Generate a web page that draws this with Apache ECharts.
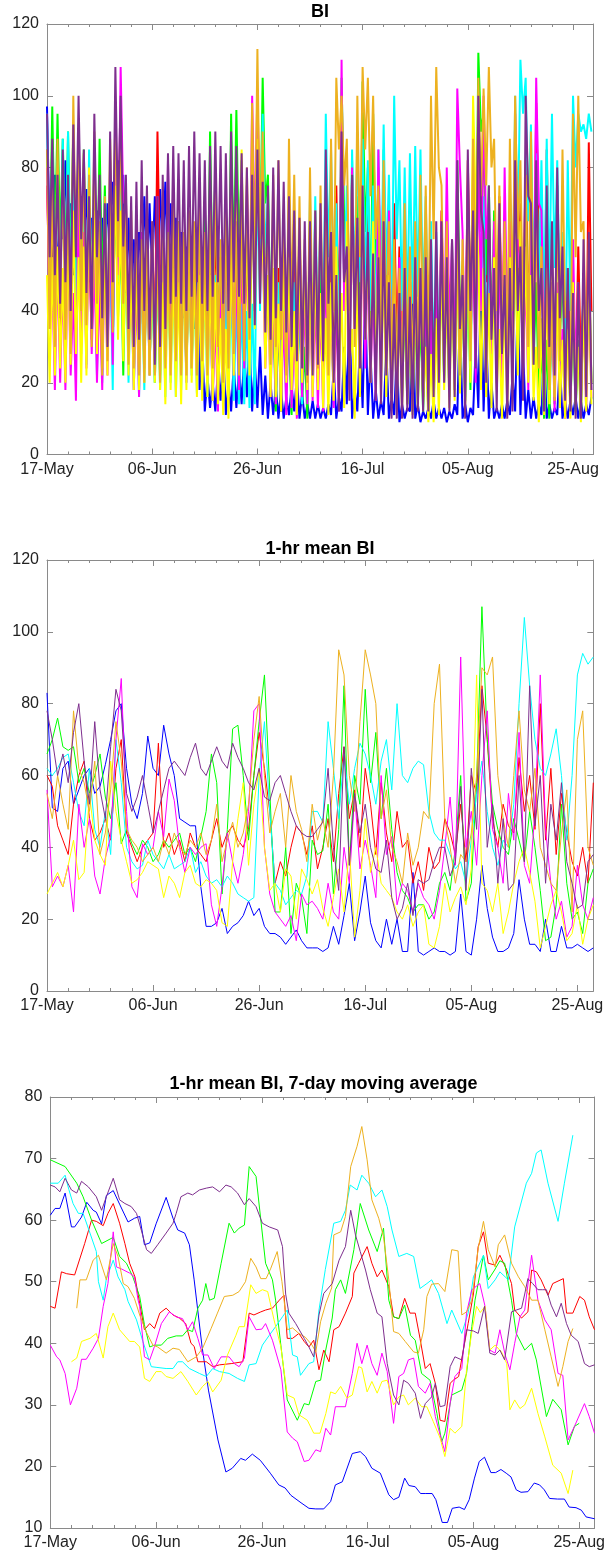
<!DOCTYPE html>
<html><head><meta charset="utf-8">
<script src="https://cdn.jsdelivr.net/npm/echarts/dist/echarts.min.js"></script>
<style>html,body{margin:0;padding:0;background:#fff}#c{width:608px;height:1558px}</style>
</head><body><div id="c"></div>
<script>
// ---------- tick labels ----------
const DATE_LABELS = ['17-May','06-Jun','26-Jun','16-Jul','05-Aug','25-Aug']; // days 0,20,...,100
const TITLES = ['BI', '1-hr mean BI', '1-hr mean BI, 7-day moving average'];
const SERIES_NAMES = ['blue','red','green','cyan','magenta','yellow','orange','purple'];
const COLORS = ['#0000ff','#ff0000','#00ff00','#00ffff','#ff00ff','#ffff00','#edb120','#7e2f8e'];

// ---------- panel 1: BI (sampled every half day, day = index*0.5) ----------
const BI_blue = [97,60,55,78,48,70,60,82,52,70,50,65,55,72,58,74,48,66,50,68,
45,66,52,70,58,76,62,82,58,78,45,66,40,60,45,62,52,72,48,70,
50,72,52,74,55,76,50,70,45,66,40,62,38,58,40,60,35,55,18,32,
12,22,13,20,12,24,15,30,11,20,12,25,13,24,14,28,16,32,12,26,
13,30,11,22,10,20,11,19,10,18,10,16,11,19,12,22,10,17,10,14,
10,15,10,14,10,13,10,14,11,24,10,16,12,30,14,42,10,18,12,32,
13,45,11,28,10,18,10,15,11,30,10,16,11,28,9,14,10,13,12,48,
10,14,9,12,10,13,10,15,10,13,10,13,9,12,10,14,11,40,10,14,
9,13,11,30,13,50,12,34,10,20,10,13,10,14,10,15,11,22,12,45,
11,30,10,18,10,16,10,14,11,30,10,14,10,13,11,26,10,15,10,15,
11,16,10,15,10,14,11,16];
const BI_red = [75,45,70,38,55,30,48,28,70,35,80,40,85,42,75,38,60,32,55,30,
60,32,65,35,58,30,80,45,85,50,60,30,52,28,48,25,55,30,58,28,
60,32,90,48,55,28,60,30,52,26,58,30,50,25,60,32,55,28,52,26,
50,25,58,30,65,32,55,28,60,30,62,32,58,28,55,28,62,30,80,40,
95,50,85,42,70,32,45,18,52,22,48,18,58,24,65,28,62,26,55,22,
65,28,50,20,58,24,68,30,52,22,75,35,90,45,68,30,78,35,58,24,
85,40,72,32,55,22,80,38,62,28,52,22,70,30,58,24,60,26,45,18,
52,20,42,16,58,24,50,20,52,22,68,30,62,28,55,24,72,32,52,22,
82,40,75,36,100,62,92,48,68,30,58,24,72,32,65,28,62,26,88,42,
70,32,82,40,62,28,98,58,60,26,85,40,55,22,75,35,62,28,52,22,
48,18,58,24,45,16,87,40];
const BI_green = [85,50,97,55,95,58,88,50,90,48,92,46,78,38,85,42,75,35,82,40,
88,45,75,35,68,30,80,38,62,22,65,26,60,22,55,22,60,25,58,24,
52,20,55,22,60,25,58,24,62,24,65,26,55,22,58,24,52,22,62,26,
72,30,90,45,80,38,45,15,65,28,95,52,96,55,82,40,60,25,82,40,
98,55,105,70,78,35,40,12,38,12,58,22,32,11,48,18,42,14,30,10,
62,25,58,22,60,20,75,32,45,15,65,28,105,65,55,20,82,40,72,32,
104,62,80,38,95,50,70,30,85,40,65,28,52,20,45,16,42,14,38,12,
42,14,40,12,35,11,40,12,50,18,55,20,48,16,60,25,82,40,45,15,
52,18,80,38,112,90,95,50,75,32,68,28,60,24,58,22,70,30,62,26,
58,22,72,30,62,25,48,16,30,10,32,10,45,14,75,32,52,18,38,12,
40,12,32,10,50,18,55,20];
const BI_cyan = [95,40,85,38,82,40,88,42,90,45,80,35,72,28,68,25,85,40,65,22,
62,20,72,28,58,18,90,48,80,38,60,20,55,18,52,16,54,18,62,22,
58,20,55,18,52,16,58,20,52,16,55,18,56,20,60,22,52,17,56,20,
50,16,48,15,50,16,46,15,50,16,48,15,44,14,42,14,40,13,42,14,
82,40,95,55,72,30,50,15,48,14,42,13,45,14,48,15,46,14,52,16,
72,30,72,30,68,28,95,55,85,42,70,28,88,45,75,32,85,42,90,48,
88,45,82,40,75,32,85,42,92,50,78,35,100,60,82,40,80,38,84,42,
86,44,85,42,72,30,65,24,62,22,62,22,58,20,52,18,55,20,48,16,
62,24,76,34,85,44,72,30,60,22,55,20,62,24,60,22,75,32,100,60,
110,95,105,65,92,50,84,42,82,40,88,45,95,52,82,40,62,24,82,40,
100,80,95,90,92,88,95,90];
const BI_magenta = [80,35,50,18,55,20,50,18,60,22,45,15,75,30,62,24,70,28,55,20,
48,18,60,22,65,25,95,50,108,70,72,30,50,18,48,16,62,24,58,22,
62,24,72,30,65,24,82,38,75,32,62,24,55,20,62,24,58,22,62,24,
62,24,45,15,38,12,52,18,68,28,58,22,52,18,60,24,75,32,100,60,
102,62,62,24,50,16,45,14,42,12,40,11,44,13,35,10,50,16,45,14,
48,15,45,13,42,12,55,18,45,13,42,12,110,40,55,18,80,35,58,20,
65,24,58,20,48,15,85,40,62,22,68,26,48,15,55,18,50,16,45,13,
55,18,50,16,45,14,40,12,52,17,65,25,80,35,60,22,102,80,62,24,
75,30,58,20,85,40,100,60,70,28,65,24,55,18,80,35,65,25,95,52,
58,20,52,18,72,30,105,70,68,26,55,18,42,12,48,15,35,10,40,12,
60,22,48,15,42,12,50,16];
const BI_yellow = [50,20,55,22,58,24,52,20,60,25,68,28,55,20,58,22,80,40,68,28,
62,24,58,22,88,45,75,32,68,26,60,22,52,18,55,18,58,20,62,22,
60,20,58,18,48,14,56,18,52,16,48,14,56,18,60,20,52,16,50,15,
52,16,50,15,48,14,38,11,35,10,60,22,75,32,85,40,60,22,78,35,
88,45,65,24,50,16,52,16,42,12,58,20,55,18,40,11,58,20,55,18,
50,16,55,18,45,13,38,11,48,15,58,20,45,13,65,25,35,10,52,16,
75,32,58,20,65,25,55,18,52,16,50,15,45,13,42,12,48,14,38,11,
45,13,48,14,30,9,28,9,38,11,55,18,45,13,50,15,55,17,48,14,
60,20,100,70,55,18,52,16,45,13,55,18,35,10,45,13,55,18,62,22,
65,24,58,20,50,15,30,9,38,11,48,14,52,16,45,13,32,10,35,10,
48,14,30,9,42,12,48,14];
const BI_orange = [85,35,75,30,88,38,80,32,72,28,100,55,88,40,84,36,78,30,90,42,
65,22,72,26,82,34,98,55,90,42,72,25,68,24,65,22,60,20,62,22,
65,22,60,20,68,24,62,22,70,26,65,22,62,22,68,24,65,22,70,26,
62,22,68,24,80,30,60,20,68,24,75,28,65,22,70,26,80,32,98,50,
113,60,90,40,70,25,78,30,82,32,65,22,88,40,78,30,72,26,60,20,
80,30,68,24,75,28,65,22,88,40,105,85,100,75,88,40,78,30,100,55,
108,85,105,72,100,60,75,28,82,34,65,22,60,20,52,16,70,26,58,20,
65,24,78,30,75,28,100,60,108,80,75,28,65,24,52,18,62,22,60,20,
70,26,88,40,105,72,102,75,108,80,88,40,75,28,65,24,88,40,100,60,
82,35,78,30,90,42,65,24,58,20,52,18,48,15,70,26,85,38,45,14,
95,55,100,62,65,24,60,20];
const BI_purple = [95,55,88,50,78,42,85,48,78,40,92,55,100,60,85,45,72,35,95,55,
78,38,70,30,90,48,108,65,100,58,78,35,72,30,76,32,82,40,75,32,
65,25,72,30,78,35,84,42,86,44,84,42,82,40,86,44,90,48,84,42,
82,40,86,44,90,48,86,42,84,40,90,48,86,44,84,42,80,38,78,36,
85,42,76,34,75,32,80,38,82,40,76,34,72,30,68,26,66,24,65,22,
65,22,68,25,70,26,85,42,62,20,50,12,90,48,58,15,78,35,66,24,
75,32,62,20,56,15,55,14,65,22,48,10,42,10,45,10,52,12,44,10,
55,12,52,12,55,12,60,16,65,20,65,20,55,12,60,16,82,35,50,10,
85,40,68,24,100,68,62,20,75,32,52,12,70,28,50,10,52,12,82,40,
58,15,100,72,70,25,82,40,52,12,75,30,65,22,80,38,58,15,52,12,
45,10,48,10,60,16,62,18];

// ---------- panel 2: 1-hr mean BI (one value per day, days 0..103) ----------
const HR_blue = [83,51,50,62,64,52,56,60,62,55,57,63,70,78,80,62,52,48,55,71,
62,60,74,66,60,48,47,46,46,29,18,18,19,23,16,18,19,21,25,21,
23,18,16,16,15,13,15,17,14,12,12,12,11,12,18,13,21,30,14,22,
32,19,14,12,20,13,20,11,11,33,11,10,11,12,11,11,10,11,27,11,
10,20,35,23,15,11,11,12,16,31,20,13,13,11,20,11,11,18,12,12,
13,12,11,12];
const HR_red = [60,57,46,42,38,52,60,64,48,42,44,48,42,62,70,44,40,36,40,42,
44,69,40,44,38,42,36,44,40,38,36,42,48,40,44,46,42,40,45,60,
72,62,50,30,36,32,40,46,44,38,46,34,40,48,36,55,68,48,56,40,
62,52,38,58,44,36,50,40,42,30,36,28,40,34,36,48,44,38,52,36,
60,55,85,70,48,40,52,46,44,65,50,60,45,80,42,62,38,55,44,36,
32,40,30,58];
const HR_green = [66,70,76,68,67,68,58,62,55,60,66,54,48,58,41,45,41,38,42,40,
36,38,42,40,42,44,38,40,36,43,50,66,58,27,45,73,74,60,42,60,
75,88,56,22,22,40,16,30,26,16,42,38,39,52,27,45,85,35,60,52,
84,58,72,48,62,45,33,28,26,22,24,24,20,22,30,33,28,40,60,25,
30,58,107,70,52,45,40,38,48,42,36,50,40,28,14,15,24,52,30,20,
22,16,30,34];
const HR_cyan = [62,60,62,65,66,58,50,46,62,45,40,50,38,70,58,40,36,34,35,42,
38,36,34,38,34,35,36,40,33,36,32,30,31,29,32,30,27,26,25,26,
60,75,50,30,28,24,26,28,27,32,50,50,47,75,62,48,66,52,62,69,
66,60,52,64,70,56,80,60,58,62,64,63,50,44,42,42,38,34,36,30,
42,55,64,50,40,35,42,40,52,80,104,85,70,62,60,66,73,60,42,60,
88,94,91,93];
const HR_magenta = [56,29,32,29,35,22,52,40,48,32,27,37,43,70,87,50,29,26,41,38,
40,50,43,59,53,40,33,40,38,40,41,24,18,29,44,36,30,38,50,78,
80,40,27,22,20,18,21,14,27,24,25,23,20,30,22,20,40,30,55,34,
42,35,26,60,38,43,24,30,28,22,30,26,24,20,28,40,54,35,93,40,
50,35,60,78,45,40,30,55,42,72,35,30,50,88,45,30,20,25,15,18,
35,24,20,26];
const HR_yellow = [27,30,33,29,35,42,31,33,55,42,38,35,64,50,42,36,30,31,33,36,
35,34,26,32,30,26,33,35,30,29,31,30,28,19,18,36,48,58,35,52,
62,40,28,30,22,34,32,20,34,31,27,31,23,18,26,34,22,40,15,28,
48,33,40,30,28,26,22,20,24,18,22,24,13,12,18,30,22,26,29,24,
34,88,30,28,22,30,16,22,30,36,40,33,25,12,18,24,28,22,14,16,
24,13,20,24];
const HR_orange = [55,48,60,52,45,78,62,58,50,64,38,44,56,75,64,45,42,40,36,38,
40,36,42,38,44,40,38,42,40,44,38,42,52,36,42,47,40,44,52,70,
82,60,44,50,55,40,60,50,45,36,52,42,48,40,60,95,88,60,50,75,
95,88,80,48,56,40,36,30,44,35,40,50,48,80,91,48,40,30,38,36,
44,60,90,88,93,60,48,40,60,78,56,50,62,40,35,30,28,44,56,22,
70,78,40,35];
const HR_purple = [78,70,60,66,58,72,80,64,52,75,56,48,68,84,78,55,50,54,60,52,
44,50,56,62,64,62,60,65,69,62,60,64,68,64,62,69,65,62,58,56,
62,54,53,58,60,55,50,46,44,43,43,45,47,62,40,28,68,35,55,44,
52,40,34,33,42,26,20,23,30,21,31,30,31,36,40,40,32,36,57,28,
62,45,84,40,52,30,48,28,30,60,36,85,46,60,30,52,42,58,36,30,
23,24,36,38];

// ---------- panel 3: 7-day moving average ([day, value]) ----------
const MA_blue = [[0,60.8],[0.9,61.9],[1.8,61.9],[2.8,64.4],[4,58.9],[4.6,58.9],[5.9,60.5],[6.9,62.9],[8.1,61.6],[8.7,61.3],[9.7,59.4],[10.6,64],[11.9,64.8],[13.1,62.6],[14.7,59.7],[15.9,60.3],[16.9,60.6],[17.8,56],[18.8,56.3],[20,59.4],[21.9,63.7],[23.2,60.3],[24.1,58.4],[25.4,57.9],[26.3,56],[27.2,50.3],[28.7,39.4],[29.9,32.4],[31.7,24.3],[33.2,19.1],[34.4,19.7],[36,21.3],[36.9,21],[38.2,22],[39.7,21],[41.6,18.9],[43.2,17],[44.4,16.5],[45.5,15.3],[47.4,14.1],[48.9,13.2],[50.2,13.1],[51.7,13.1],[53,14.3],[53.9,17],[55.2,17.5],[57.1,22.1],[58.6,22.4],[59.6,21.6],[60.8,19.7],[62.4,18.9],[64,15.4],[64.9,14.6],[65.9,15],[67,18.1],[67.8,16.9],[69,16.7],[70,15.6],[71,15.6],[72.2,15.6],[72.9,14.6],[74.1,10.9],[75.1,10.9],[76,13.2],[77.3,13.4],[78.3,13],[79.2,14.6],[80.2,18.1],[81.1,20.8],[82.1,21.5],[83.3,19],[84.2,19],[85.2,19.5],[86.2,18.9],[87.1,18.3],[88.1,16.2],[89,15.8],[90.3,15.9],[91.5,17.3],[92.5,17],[93.4,16.2],[94.4,14.8],[95.9,14.7],[97.2,14.7],[98.1,13.4],[99.4,13.3],[100.4,12.9],[101.3,11.8],[102.9,11.5]];
const MA_red = [[0,46],[0.9,45.7],[2.1,51.6],[3.1,51.3],[4.6,51.1],[6.5,56.2],[7.8,60],[8.7,59.8],[10,59.1],[10.9,61.1],[11.9,62.7],[13.1,59.5],[14.1,56.2],[15,53],[16,50.8],[16.9,46.5],[17.8,42.2],[18.8,43.2],[19.7,42.4],[20.7,44.9],[21.9,45.7],[23.2,44.6],[24.4,44.1],[25.6,43.2],[26.6,40],[27.2,39.5],[27.9,37],[29.5,37],[30.7,36.2],[32,36.5],[34.2,36.7],[36.4,37],[37.6,44.9],[38.5,44.6],[39.8,45.1],[40.7,45.4],[42,45.7],[43.3,47],[44.2,47.8],[44.8,40.8],[45.8,40.8],[47,41.6],[48,40.3],[48.9,39.4],[49.8,40.5],[50.8,35.7],[51.7,38.9],[52.7,37],[53.6,42.2],[54.6,42.7],[55.8,44.9],[57.1,47.6],[57.4,51.4],[58.3,53],[59.9,55.7],[60.8,53],[61.8,50.8],[62.7,51.9],[64,49.2],[64.9,44.3],[65.9,44],[67,47.3],[68,44.9],[69,44.9],[69.9,40.8],[70.9,35.9],[71.8,36.7],[72.8,33.5],[73.7,27.5],[74.6,27.3],[75.6,33.5],[76.2,34],[77.2,34.6],[78.1,38.9],[79,43.2],[80,48],[80.9,55.7],[81.9,58.1],[82.8,53],[84.1,52.7],[85,54.3],[86.3,51.9],[87.2,49.7],[87.8,45.4],[89.1,44.1],[90.3,45.1],[91,51.9],[91.9,51.6],[92.8,50.3],[94.1,47.8],[95,49.7],[97,50.5],[97.6,44.9],[98.8,44.9],[100.1,47.6],[101,47],[101.9,44.3],[102.9,42.2]];
const MA_green = [[0,69.8],[2.8,68.7],[5,66],[6.2,63.8],[7.8,60],[9.7,56.2],[11.9,57.2],[13.1,54.1],[14.4,53],[15.6,50.8],[16.9,47.6],[17.8,43],[18.8,39.4],[19.7,39.7],[21,39.7],[22.2,40.8],[23.8,41.2],[25,41.2],[26,42.2],[26.9,41.9],[27.9,45.7],[28.8,47],[29.4,49.7],[30.1,47],[31,47.3],[32.3,53],[33.8,59.5],[34.8,57.9],[35.7,58.7],[36.7,59.2],[37.6,68.7],[38.9,67.1],[40.7,53],[42,50.3],[42.6,47],[44.8,30.8],[46.7,27.5],[48,30.2],[48.9,30],[50.2,33.8],[51.1,34],[52,38.6],[53.3,44.1],[53.9,48.7],[54.9,50.3],[55.8,48.1],[57.4,55.2],[58.6,62.7],[60.2,58.4],[61.8,54.9],[63,58.7],[64,47],[64.9,44.3],[65.9,44],[67,46.2],[68.1,41.3],[69,40.5],[70.2,35.1],[71.8,34],[73.1,28.6],[74,24],[74.6,25.4],[75.9,31.6],[77.8,32.4],[78.7,35.1],[79.7,42.7],[80.3,47],[81.9,54.3],[82.8,50.3],[84,51.9],[85,53.4],[85.9,53],[87.2,47],[88.1,41.6],[89.7,38.9],[91,40],[91.9,37.3],[93.8,28.1],[95,30.9],[96.6,29.2],[97.9,23.5],[99.1,26.5],[100,27]];
const MA_cyan = [[0,66],[1.5,66],[2.8,67.3],[3.5,65],[4.3,62.7],[5.3,61.1],[6.2,61.1],[7.5,57.9],[8.7,54.9],[9.1,50],[10,47],[10.6,50.5],[11.9,53.5],[12.8,50.8],[14.1,48.7],[14.7,46.8],[16.3,43.8],[17.5,40.3],[19.1,36.2],[20,36.1],[21.9,35.9],[23.2,35.9],[24.1,37],[25,37],[26.3,35.9],[28.2,35.1],[29.5,34.6],[30.7,35.9],[32,35.4],[33.8,35.1],[35.4,34.3],[36.7,33.8],[37.6,36.5],[38.9,36.7],[40.1,39.7],[41.4,41.3],[42.6,42.7],[43.9,44.3],[44.8,45.4],[45.8,38.1],[46.7,37.8],[47.3,34.8],[48.9,36.7],[49.8,37],[50.8,45.4],[52,52],[53.6,59.5],[54.9,59.8],[55.8,61.6],[56.7,65.7],[58,64.9],[58.9,67.3],[60.2,66],[61.5,63.8],[62.7,64.9],[63.7,62.2],[64.6,58.4],[65.9,54.1],[67.4,54.6],[68.7,54.1],[69.9,48.9],[71.2,49.7],[72.1,50.3],[73.4,48.1],[75,43.2],[75.9,45.4],[77.8,41.6],[79,44.9],[80,50.8],[81.9,54.3],[82.8,48.9],[84.1,50.3],[85,51.6],[86.6,50.3],[87.8,58.9],[90,66],[91,67.6],[91.9,70.9],[92.8,71.4],[94.1,66],[96,59.8],[97.2,66],[98.8,73.8]];
const MA_magenta = [[0,39.7],[1.2,37.8],[1.8,37.3],[2.8,35.1],[3.8,30],[5,32.7],[5.9,37.4],[6.8,37.4],[8.1,39.2],[9.1,40.8],[10,46],[10.9,49.7],[11.9,58.1],[12.5,52.4],[13.4,52.1],[15,51.4],[15.9,50.8],[16.6,47],[16.9,46],[17.8,37.8],[18.8,37.3],[19.7,39.5],[21,43.2],[22.5,45.1],[23.8,44.3],[25,44],[26,42.2],[26.9,43.5],[27.9,40.8],[28.8,38.1],[29.8,38.1],[31,35.9],[32.3,37.8],[33.8,37.8],[34.8,36.7],[35.7,36.2],[36.7,37.6],[37.6,44.3],[38.9,42.2],[40,42.3],[40.7,43.2],[42,40.5],[43.6,35.7],[44.8,25.6],[45.8,24.6],[46.7,24],[48,20.8],[48.9,21],[50.2,22.7],[51.1,22.4],[52.1,26.2],[53,25.1],[53.9,29.7],[55.8,29.7],[57.1,35.1],[58,40],[58.9,36.7],[59.9,39.7],[60.8,36.7],[61.8,34.8],[62.7,38.4],[63.7,35.4],[64.9,27],[65.9,34.6],[66.8,35.1],[67.7,37.3],[68.7,37.6],[69.6,33],[70.9,31.9],[71.8,33.5],[72.8,28.1],[73.7,25.1],[74.6,22.4],[75.6,30.3],[76.5,34.6],[77.8,35.9],[78.7,44.9],[79.7,48.7],[81.2,49.7],[82.2,46],[83.1,38.9],[84.1,38.4],[85,42.2],[86,38.1],[86.9,35.7],[87.8,40],[88.8,44.3],[89.7,45.4],[91,54.3],[92.2,47],[93.5,43.8],[94.7,42.2],[96,35.1],[96.9,34.8],[97.9,24.3],[99.1,26.5],[101,30.2],[101.9,28.1],[102.9,25.4]];
const MA_yellow = [[4,37],[5,37.6],[5.9,40.3],[7.5,40.8],[8.7,41.6],[10,37.6],[10.9,42.7],[11.9,44.9],[13.1,42.2],[15,40.3],[15.9,40.3],[16.9,39.4],[17.8,34.3],[18.8,33.8],[20,35.4],[21,35.4],[21.9,34.6],[23.2,34.3],[24.7,35.4],[26,33.8],[27.6,31.6],[28.8,33],[29.8,33.8],[30.7,32.1],[32.3,34],[33.5,38.1],[35.1,41.3],[35.7,42.7],[36.7,42.7],[37.9,49.5],[38.9,48.1],[40.1,48.7],[41.1,48.4],[42.3,43.8],[43.6,39.4],[44.8,31.6],[46.1,31.1],[47,28.4],[48.6,27.5],[49.8,25.4],[51,25.4],[52.1,28.6],[53,32.1],[53.9,31.8],[54.9,33],[56.1,31.1],[57.1,31.6],[58.3,36.2],[58.9,36],[59.9,32.1],[60.8,33.8],[61.8,31.9],[62.7,33.8],[63.7,34],[64.9,30],[65.9,31.3],[66.8,31.6],[67.7,30],[69,31.1],[70.2,29.7],[71.2,29.7],[72.4,27.3],[73.7,24.6],[74.6,21.6],[75.6,26.2],[76.5,25.4],[77.8,26.5],[78.7,35.7],[79.7,41.9],[80.6,46],[81.3,45],[82.2,46],[83.1,38.9],[84.1,39.7],[85.3,38.6],[86.3,36.7],[86.9,29.2],[87.8,30.8],[88.8,29.4],[89.7,30],[91,32.7],[92.2,28.6],[93.5,24.8],[95,20.2],[96.6,18.9],[97.9,15.6],[98.8,19.4]];
const MA_orange = [[5,45.7],[5.6,50.3],[6.8,50.3],[8.1,53.5],[9.1,54.3],[10,51.9],[10.6,50.3],[11.9,56.2],[12.8,54.1],[13.8,49.7],[14.7,49.2],[15.9,47.3],[16.9,44.6],[18.1,41.9],[19.4,39.7],[20.3,39.4],[21.9,38.4],[23.2,39.2],[24.4,39],[26,37],[27.6,37.8],[28.8,39.2],[30.4,42.4],[31.6,44.9],[32.9,47.6],[34.5,47.8],[35.7,48.4],[36.9,50],[37.9,53.8],[38.9,52.4],[39.8,50.5],[40.8,50.5],[41.7,52.2],[42.9,54.9],[43.8,50],[44.2,47],[44.8,42.2],[45.8,42.5],[47,41.6],[48.2,41],[49.5,39.7],[50.2,38.6],[51.1,43.5],[52.1,46.5],[53.2,49],[53.6,57.6],[54.9,58.1],[55.8,60.6],[56.8,68.7],[58,72],[58.9,75.2],[59.9,69.8],[60.8,63.3],[62.1,60.3],[63,57.3],[64,50.3],[64.9,41.9],[65.9,41.6],[67.1,40.3],[68.7,38.6],[69.6,38.4],[70.6,42.2],[71.2,47.6],[72.1,49.6],[73.4,49.7],[74.6,48.4],[75.9,55.2],[77.1,55],[77.8,44.6],[78.7,45.1],[79.7,47],[80.9,55.4],[81.9,59.8],[82.8,55.2],[84.1,52.4],[84.7,56],[85.9,57.6],[87.2,53],[88.5,50.8],[89.7,49.2],[91,47],[92.2,47],[93.5,42.2],[94.7,37.8],[96,33],[96.9,36.2],[97.9,40.3],[98.8,42.4]];
const MA_purple = [[0,65.7],[0.9,65.4],[1.8,64.6],[2.8,66.8],[4,64.9],[5,64.4],[5.9,66.3],[7.2,65.4],[8.7,63.8],[9.7,61.6],[10.6,63.8],[11.9,66.8],[13.1,63.3],[14.1,62.7],[15.3,62.2],[16.3,61.1],[17.2,58.4],[18.2,55.2],[19.1,54.6],[20.3,56],[21.9,57.9],[23.2,59.5],[23.8,61.1],[24.7,63.8],[26,64.4],[26.9,64.1],[28.2,64.9],[29.5,65.2],[30.7,65.4],[32,64.6],[33.2,65.7],[34.2,65.4],[35.4,64.4],[36.7,62.5],[37.6,63.5],[38.9,62.2],[40.1,59.5],[41.4,58.9],[43,58.4],[43.9,55.7],[44.5,48],[45.1,44.9],[46.4,43.2],[48,40.8],[48.9,39.4],[49.8,37.8],[50.8,44.6],[51.7,48.1],[53.3,49.7],[54.6,53.5],[55.8,55.7],[56.8,61.6],[57.7,57.6],[58.6,54.9],[59.6,51.9],[60.5,48.7],[61.8,44.9],[62.7,44.3],[63.7,36.7],[64.9,31.6],[65.9,30],[66.8,34],[67.7,33.5],[69,31.9],[70,27.8],[70.9,30.2],[72.1,31.3],[72.8,33.5],[73.7,29.7],[74.6,29.9],[75.6,36.2],[76.5,37.8],[77.8,37.3],[78.7,42.2],[80,42],[80.9,41.6],[82.1,46],[83.1,38.4],[84.1,38.1],[85,38.9],[85.9,37.3],[87.2,45.1],[88.1,45.4],[89.1,45.7],[89.7,48],[90.3,50.5],[91.2,49.7],[92.2,48.7],[93.1,48.7],[93.8,48.7],[94.7,46.2],[95.7,44.3],[96.6,46.5],[97.6,43.2],[98.5,41.3],[99.8,40.3],[101,36.7],[101.9,36.2],[102.9,36.5]];

// ---------- build ----------
const FONT = '"Liberation Sans", Arial, Helvetica, sans-serif';
const AX = '#8a8a8a';
const panels = [
  {grid:{left:47, top:24, width:546, height:430.5}, xmax:103.8, ymin:0, ymax:120, yint:20, lw:2,
   data:[BI_blue,BI_red,BI_green,BI_cyan,BI_magenta,BI_yellow,BI_orange,BI_purple], step:0.5, titleY:13, titleX:320},
  {grid:{left:47, top:560, width:546.3, height:431}, xmax:103.0, ymin:0, ymax:120, yint:20, lw:1,
   data:[HR_blue,HR_red,HR_green,HR_cyan,HR_magenta,HR_yellow,HR_orange,HR_purple], step:1, titleY:550, titleX:320},
  {grid:{left:50.3, top:1097, width:546.4, height:431}, xmax:102.9, ymin:10, ymax:80, yint:10, lw:1,
   data:[MA_blue,MA_red,MA_green,MA_cyan,MA_magenta,MA_yellow,MA_orange,MA_purple], step:null, titleY:1085, titleX:323.5}
];

const grids=[], xAxes=[], yAxes=[], series=[], titles=[];
panels.forEach((p,pi)=>{
  grids.push(Object.assign({containLabel:false}, p.grid));
  const base = {gridIndex:pi, type:'value', min:0, max:p.xmax, splitLine:{show:false}};
  const xi = xAxes.length;
  xAxes.push(Object.assign({}, base, {position:'bottom', interval:20,
    axisLine:{show:true, onZero:false, lineStyle:{color:AX,width:1}},
    axisTick:{show:true, inside:true, length:6, lineStyle:{color:AX}},
    axisLabel:{show:true, color:'#222', fontSize:16, fontFamily:FONT, margin:7, showMaxLabel:false,
      formatter:v=>{const k=v/20; return Math.abs(k-Math.round(k))<1e-6 ? (DATE_LABELS[Math.round(k)]||'') : '';}}}));
  xAxes.push(Object.assign({}, base, {position:'bottom', interval:4,
    axisLine:{show:false, onZero:false}, axisLabel:{show:false},
    axisTick:{show:true, inside:true, length:3, lineStyle:{color:AX}}}));
  xAxes.push(Object.assign({}, base, {position:'top', interval:20,
    axisLine:{show:true, onZero:false, lineStyle:{color:AX,width:1}}, axisLabel:{show:false},
    axisTick:{show:true, inside:true, length:6, lineStyle:{color:AX}}}));
  xAxes.push(Object.assign({}, base, {position:'top', interval:4,
    axisLine:{show:false, onZero:false}, axisLabel:{show:false},
    axisTick:{show:true, inside:true, length:3, lineStyle:{color:AX}}}));
  const yi = yAxes.length;
  yAxes.push({gridIndex:pi, type:'value', min:p.ymin, max:p.ymax, interval:p.yint, position:'left',
    splitLine:{show:false},
    axisLine:{show:true, onZero:false, lineStyle:{color:AX,width:1}},
    axisTick:{show:true, inside:true, length:6, lineStyle:{color:AX}},
    axisLabel:{show:true, color:'#222', fontSize:16, fontFamily:FONT, margin:8}});
  yAxes.push({gridIndex:pi, type:'value', min:p.ymin, max:p.ymax, interval:p.yint, position:'right',
    splitLine:{show:false},
    axisLine:{show:true, onZero:false, lineStyle:{color:AX,width:1}},
    axisTick:{show:true, inside:true, length:6, lineStyle:{color:AX}},
    axisLabel:{show:false}});
  p.data.forEach((arr,si)=>{
    const d = p.step===null ? arr : arr.map((v,i)=>[i*p.step, v]);
    series.push({type:'line', name:SERIES_NAMES[si]+'_'+pi, data:d, xAxisIndex:xi, yAxisIndex:yi,
      showSymbol:false, symbol:'none', animation:false, silent:true, clip:true,
      lineStyle:{color:COLORS[si], width:p.lw}, itemStyle:{color:COLORS[si]}});
  });
  titles.push({text:TITLES[pi], left:p.titleX, top:p.titleY-10, textAlign:'center', padding:0,
    textStyle:{fontFamily:FONT, fontSize:18, fontWeight:'bold', color:'#000'}});
});

const chart = echarts.init(document.getElementById('c'), null, {renderer:'canvas'});
chart.setOption({animation:false, backgroundColor:'#fff', title:titles, grid:grids, xAxis:xAxes, yAxis:yAxes, series:series});
</script></body></html>
